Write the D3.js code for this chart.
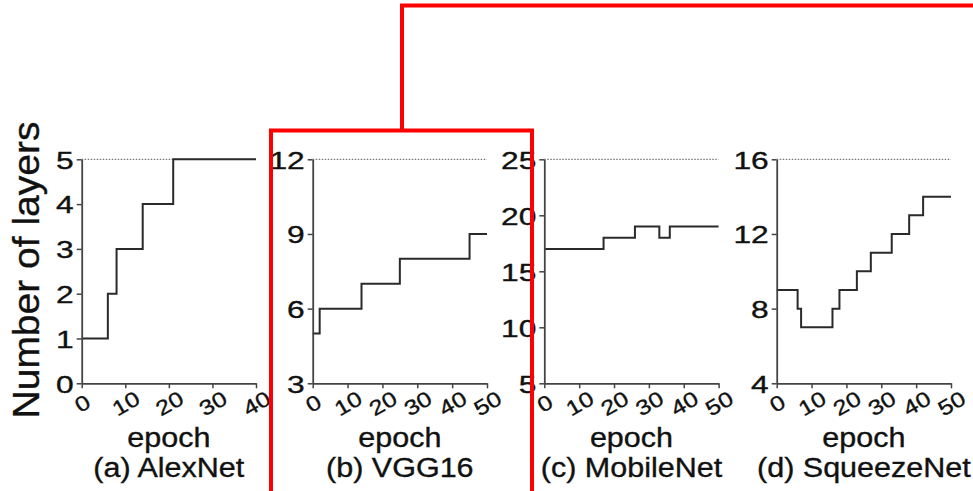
<!DOCTYPE html>
<html>
<head>
<meta charset="utf-8">
<script src="https://cdn.jsdelivr.net/npm/d3@7"></script>
<style>
  html, body { margin: 0; padding: 0; background: #fff; }
  svg { display: block; }
  text { font-family: "Liberation Sans", Arial, Helvetica, sans-serif; fill: #111; stroke: #111; stroke-width: 0.35px; }
</style>
</head>
<body>
<svg id="chart" width="973" height="491"></svg>
<script>
// Layer-freezing progress per network: the epoch at which each step starts,
// and the number of layers reached from that epoch on.
const panelTitles = ["(a) AlexNet", "(b) VGG16", "(c) MobileNet", "(d) SqueezeNet"];
const epochMax = [40, 50, 50, 50];
const xTickValues = [
  [0, 10, 20, 30, 40],
  [0, 10, 20, 30, 40, 50],
  [0, 10, 20, 30, 40, 50],
  [0, 10, 20, 30, 40, 50]
];
const yTickValues = [
  [0, 1, 2, 3, 4, 5],
  [3, 6, 9, 12],
  [5, 10, 15, 20, 25],
  [4, 8, 12, 16]
];
// Total layer count of each network (dotted reference line)
const totalLayers = [5, 12, 25, 16];

const alexEpochs    = [0, 6, 8, 14, 21, 40];
const alexLayers    = [1, 2, 3, 4, 5, 5];
const vggEpochs     = [0, 2, 14, 25, 45, 50];
const vggLayers     = [5, 6, 7, 8, 9, 9];
const mobileEpochs  = [0, 17, 26, 33, 36, 50];
const mobileLayers  = [17, 18, 19, 18, 19, 19];
const squeezeEpochs = [0, 6, 7, 16, 18, 23, 27, 33, 38, 42, 50];
const squeezeLayers = [9, 8, 7, 8, 9, 10, 11, 12, 13, 14, 14];

const seriesEpochs = [alexEpochs, vggEpochs, mobileEpochs, squeezeEpochs];
const seriesLayers = [alexLayers, vggLayers, mobileLayers, squeezeLayers];

// ---- layout ----
const svg = d3.select("#chart");
const plotLeft = [81.7, 312.7, 544.3, 776.7];
const plotWidth = 174.3;
const plotTop = 159.3, plotBottom = 383.3;

// Widen a text element along its own direction (the type here is set wide).
function widen(sel, k) {
  sel.each(function () {
    const len = this.getComputedTextLength();
    this.setAttribute("textLength", (len * k).toFixed(2));
    this.setAttribute("lengthAdjust", "spacingAndGlyphs");
  });
}

panelTitles.forEach((title, i) => {
  const x = d3.scaleLinear().domain([0, epochMax[i]]).range([0, plotWidth]);
  const yt = yTickValues[i];
  const y = d3.scaleLinear().domain([yt[0], yt[yt.length - 1]]).range([plotBottom - plotTop, 0]);

  const g = svg.append("g").attr("transform", `translate(${plotLeft[i]},${plotTop})`);

  // dotted line at the full layer count
  g.append("line")
    .attr("x1", x(0)).attr("x2", x(epochMax[i]))
    .attr("y1", y(totalLayers[i])).attr("y2", y(totalLayers[i]))
    .attr("stroke", "#555").attr("stroke-width", 1)
    .attr("stroke-dasharray", "1.5,1.5");

  // step line
  const pts = seriesEpochs[i].map((e, k) => [e, seriesLayers[i][k]]);
  const line = d3.line().x(d => x(d[0])).y(d => y(d[1])).curve(d3.curveStepAfter);
  g.append("path")
    .attr("d", line(pts))
    .attr("fill", "none")
    .attr("stroke", "#2a2a2a")
    .attr("stroke-width", 2);

  // y axis
  const yAxis = g.append("g")
    .call(d3.axisLeft(y).tickValues(yt).tickFormat(d3.format("d"))
      .tickSize(5).tickSizeOuter(0).tickPadding(3));
  yAxis.select(".domain").attr("stroke", "#444").attr("stroke-width", 1.8);
  yAxis.selectAll(".tick line").attr("stroke", "#444").attr("stroke-width", 1.5);
  yAxis.selectAll(".tick text")
    .attr("font-size", 23.5).attr("fill", "#111").attr("dy", "0.37em");
  widen(yAxis.selectAll(".tick text"), 1.35);

  // x axis
  const xAxis = g.append("g")
    .attr("transform", `translate(0,${plotBottom - plotTop})`)
    .call(d3.axisBottom(x).tickValues(xTickValues[i]).tickFormat(d3.format("d"))
      .tickSize(5).tickSizeOuter(0));
  xAxis.select(".domain").attr("stroke", "#444").attr("stroke-width", 1.8);
  xAxis.selectAll(".tick line").attr("stroke", "#444").attr("stroke-width", 1.5);
  xAxis.selectAll(".tick text")
    .attr("font-size", 21).attr("fill", "#111")
    .attr("y", 0).attr("dy", "0.36em")
    .attr("text-anchor", "middle")
    .attr("transform", "translate(0,20) rotate(-30)");
  widen(xAxis.selectAll(".tick text"), 1.2);

  // axis title and panel caption
  const cx = plotWidth / 2;
  const epochLabel = g.append("text")
    .attr("x", cx).attr("y", 446.7 - plotTop)
    .attr("text-anchor", "middle").attr("font-size", 27)
    .text("epoch");
  widen(epochLabel, 1.13);
  const caption = g.append("text")
    .attr("x", cx).attr("y", 476.7 - plotTop)
    .attr("text-anchor", "middle").attr("font-size", 27)
    .text(title);
  widen(caption, 1.13);
});

// y axis title shared by the row
const yTitle = svg.append("text")
  .attr("transform", "translate(38.5,270) rotate(-90)")
  .attr("text-anchor", "middle")
  .attr("font-size", 37.5)
  .text("Number of layers");
widen(yTitle, 1.04);

// red highlight frame around panel (b) with its leader line
svg.append("path")
  .attr("d", "M271,500 V130.5 H532 V500")
  .attr("fill", "none").attr("stroke", "#ff0000").attr("stroke-width", 4);
svg.append("path")
  .attr("d", "M402,130.5 V5.5 H980")
  .attr("fill", "none").attr("stroke", "#ff0000").attr("stroke-width", 4);
</script>
</body>
</html>
